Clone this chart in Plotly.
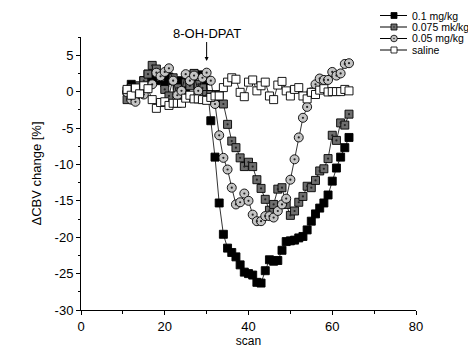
import plotly.graph_objects as go

scan = list(range(11, 65))

dose_01 = [0.1, 1.0, -0.5, 0.5, 1.5, 2.4, 2.0, 1.5, 1.8, 1.2, 2.0, 1.5, 0.8, 1.5, 0.5, 1.0, 2.4, 2.3, 1.0, 1.5,
           -4.0, -9.0, -15.3, -19.6, -21.5, -22.1, -22.7, -23.8, -24.8, -25.0, -25.2, -26.2, -26.3, -24.6, -23.1,
           -23.3, -23.2, -21.8, -20.6, -20.5, -20.4, -20.1, -19.9, -19.0, -17.8, -16.8, -16.0, -15.3, -14.2,
           -12.3, -10.5, -9.0, -7.7, -6.3]
dose_0075 = [-1.1, 0.5, 0.1, 0.8, 1.5, 2.4, 3.6, 3.1, 2.0, 0.3, -0.6, 1.9, 0.5, -0.5, 1.2, 0.8, 2.5, 1.0, 0.5, -0.4,
             -0.4, -0.8, -0.4, -1.7, -4.5, -6.8, -7.7, -9.1, -10.3, -9.7, -10.3, -12.1, -13.3, -14.8, -16.3,
             -15.5, -13.4, -13.2, -15.5, -17.0, -16.4, -15.2, -14.4, -13.0, -13.2, -12.2, -10.9, -10.6, -9.2,
             -6.0, -6.7, -4.3, -4.6, -3.1]
dose_005 = [-0.1, -1.1, -1.4, 0.1, -0.4, 0.7, 1.0, 2.6, 2.1, 2.7, 3.2, 1.5, -0.5, 0.1, 2.4, 1.5, 2.2, 0.1, 1.9, 2.6,
            1.5, -1.7, -6.0, -9.1, -10.7, -13.2, -15.5, -15.2, -14.0, -15.0, -16.9, -17.8, -17.8, -17.1, -17.1,
            -17.3, -16.4, -15.5, -14.7, -12.1, -9.3, -6.3, -3.6, -2.1, -0.1, 1.0, 1.8, 1.6, 1.6, 2.7, 2.2, 2.5,
            3.8, 3.9]
saline = [0.3, -0.5, 0.5, -0.3, 0.8, 0.4, -1.1, -2.3, -1.5, -1.4, -1.9, -1.6, -1.6, -1.6, -0.9, -0.5, -1.0, -1.0,
          -1.1, -1.2, -0.8, -0.6, -0.6, 0.55, 1.3, 1.9, 1.7, -0.1, -0.7, 1.3, 1.6, 0.1, 0.8, 1.3, -0.6, -1.1, 0.9,
          1.4, 0.1, -0.6, 0.3, 0.55, -0.6, -1.0, -0.1, -0.4, 0.2, 0.4, -0.05, 0.0, 0.0, 0.0, 0.3, 0.1]

series_names = ["0.1 mg/kg", "0.075 mk/kg", "0.05 mg/kg", "saline"]
x_ticks = [0, 20, 40, 60, 80]
y_ticks = [5, 0, -5, -10, -15, -20, -25, -30]
injection_scan = 30
injection_label = "8-OH-DPAT"

FONT = "Liberation Sans, Arial, sans-serif"
styles = [
    dict(symbol="square", fill="#000000", size=8, dot=False),
    dict(symbol="square", fill="#6e6e6e", size=8, dot=True),
    dict(symbol="circle", fill="#c4c4c4", size=9, dot=True),
    dict(symbol="square", fill="#ffffff", size=8, dot=False),
]
data = [dose_01, dose_0075, dose_005, saline]

fig = go.Figure()
for name, vals, st in zip(series_names, data, styles):
    fig.add_trace(go.Scatter(
        x=scan, y=vals, mode="lines+markers", name=name, showlegend=False,
        line=dict(color="#000000", width=0.8),
        marker=dict(symbol=st["symbol"], size=st["size"], color=st["fill"],
                    line=dict(color="#000000", width=0.9)),
        cliponaxis=False,
    ))
    if st["dot"]:
        fig.add_trace(go.Scatter(
            x=scan, y=vals, mode="markers", showlegend=False, hoverinfo="skip",
            marker=dict(symbol="circle", size=2.2, color="#222222"),
            cliponaxis=False,
        ))

# The page body adds an 8 px offset, so the figure is sized to the visible area.
OFF = 8
W, H = 476 - OFF, 354 - OFF
L, T = 81 - OFF, 37 - OFF
R = W - (416 - OFF)
B = H - (310 - OFF)
pw, ph = W - L - R, H - T - B


def px(x):  # x in window pixels -> paper
    return (x - OFF - L) / pw


def py(y):  # y in window pixels -> paper
    return (H - B - (y - OFF)) / ph


shapes = []
annotations = []
rows = [15.5, 27.0, 38.5, 50.0]
for name, st, ry in zip(series_names, styles, rows):
    shapes.append(dict(type="line", xref="paper", yref="paper", x0=px(380), x1=px(407), y0=py(ry), y1=py(ry),
                       line=dict(color="#000000", width=1)))
    s = 3 if st["symbol"] == "square" else 3.3
    shapes.append(dict(type="rect" if st["symbol"] == "square" else "circle", xref="paper", yref="paper",
                       x0=px(394 - s), x1=px(394 + s), y0=py(ry - s), y1=py(ry + s),
                       fillcolor=st["fill"], line=dict(color="#000000", width=0.8)))
    if st["dot"]:
        shapes.append(dict(type="circle", xref="paper", yref="paper",
                           x0=px(393.2), x1=px(394.8), y0=py(ry - 0.8), y1=py(ry + 0.8),
                           fillcolor="#222222", line=dict(width=0)))
    annotations.append(dict(xref="paper", yref="paper", x=px(410), y=py(ry), text=name, showarrow=False,
                            xanchor="left", yanchor="middle", font=dict(family=FONT, size=10.5, color="#000000")))

annotations.append(dict(x=injection_scan, y=4.2, xref="x", yref="y", text=injection_label, showarrow=True,
                        ax=0, ay=-28, arrowhead=2, arrowsize=0.8, arrowwidth=1, arrowcolor="#000000",
                        font=dict(family=FONT, size=13, color="#000000")))

fig.update_layout(
    width=W, height=H,
    margin=dict(l=L, r=R, t=T, b=B, pad=0, autoexpand=False),
    paper_bgcolor="#ffffff", plot_bgcolor="#ffffff",
    font=dict(family=FONT, color="#000000", size=13),
    shapes=shapes, annotations=annotations,
    showlegend=False,
)
fig.update_xaxes(
    range=[0, 80], tickvals=x_ticks, ticktext=[str(v) for v in x_ticks], automargin=False,
    showgrid=False, zeroline=False, showline=True, linecolor="#000000", linewidth=1,
    ticks="outside", ticklen=4, tickwidth=1, tickcolor="#000000",
    minor=dict(tickvals=[10, 30, 50, 70], ticks="outside", ticklen=2.5, tickwidth=1, tickcolor="#000000"),
    tickfont=dict(family=FONT, size=13),
    title=dict(text="scan", font=dict(family=FONT, size=12), standoff=4),
)
fig.update_yaxes(
    range=[-30, 7.5], tickvals=y_ticks, ticktext=[str(v) for v in y_ticks], automargin=False,
    showgrid=False, zeroline=False, showline=True, linecolor="#000000", linewidth=1,
    ticks="outside", ticklen=4, tickwidth=1, tickcolor="#000000",
    minor=dict(tickvals=[7.5, 2.5, -2.5, -7.5, -12.5, -17.5, -22.5, -27.5], ticks="outside", ticklen=2.5,
               tickwidth=1, tickcolor="#000000"),
    tickfont=dict(family=FONT, size=13),
    title=dict(text="ΔCBV change [%]", font=dict(family=FONT, size=13), standoff=10),
)

fig.write_html("out.html")
